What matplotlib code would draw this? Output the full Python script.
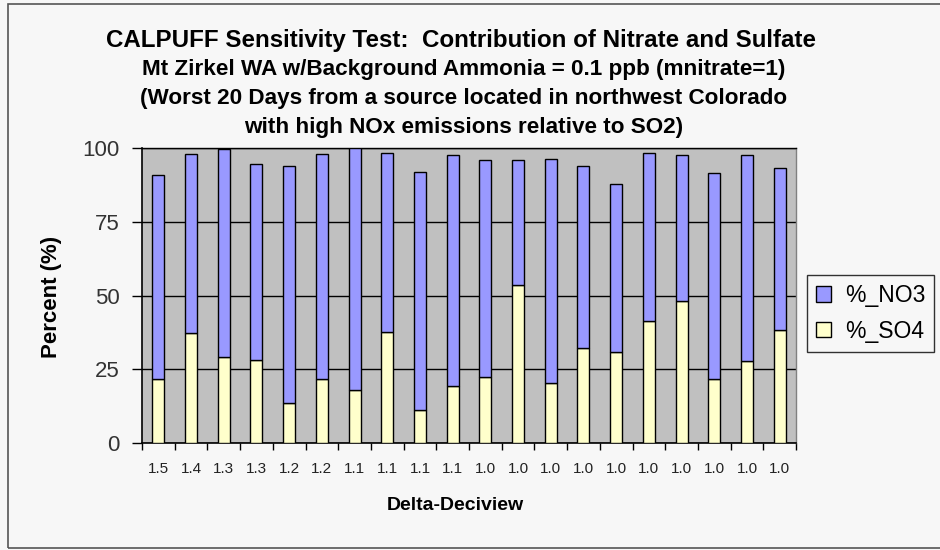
import numpy as np
import matplotlib
matplotlib.use('Agg')
import matplotlib.pyplot as plt
from matplotlib.patches import Rectangle

plt.rcParams['font.family'] = ['Liberation Sans', 'DejaVu Sans']

# --- Data ---
deciview = ['1.5', '1.4', '1.3', '1.3', '1.2', '1.2', '1.1', '1.1', '1.1', '1.1',
            '1.0', '1.0', '1.0', '1.0', '1.0', '1.0', '1.0', '1.0', '1.0', '1.0']
pct_so4 = [21.6, 37.4, 29.0, 28.1, 13.7, 21.6, 18.0, 37.7, 11.2, 19.3,
           22.5, 53.7, 20.2, 32.2, 31.0, 41.2, 48.0, 21.8, 27.7, 38.3]
pct_no3 = [69.4, 60.6, 70.8, 66.5, 80.2, 76.4, 82.0, 60.7, 80.7, 78.2,
           73.4, 42.3, 76.2, 61.7, 56.8, 57.2, 49.5, 69.6, 69.8, 54.9]
yticks = [0, 25, 50, 75, 100]

W, H = 940, 550
fig = plt.figure(figsize=(W / 100, H / 100), dpi=100)
fig.patch.set_facecolor('#f7f7f7')

# outer chart frame
fig.add_artist(Rectangle((8 / W, 1 - 548 / H), (W + 10 - 8) / W, (548 - 4) / H,
                         transform=fig.transFigure, fill=False,
                         edgecolor='#555555', linewidth=1.2))

ax = fig.add_axes([142 / W, 1 - 443 / H, (796 - 142) / W, (443 - 148) / H])
ax.set_facecolor('#c0c0c0')

x = np.arange(len(deciview))
bw = 0.37
ax.bar(x, pct_so4, width=bw, color='#ffffcc', edgecolor='black', linewidth=1.0,
       label='%_SO4', zorder=3)
ax.bar(x, pct_no3, width=bw, bottom=pct_so4, color='#9999ff', edgecolor='black',
       linewidth=1.0, label='%_NO3', zorder=3)

ax.set_xlim(-0.5, len(deciview) - 0.5)
ax.set_ylim(0, 100)

# Excel style: ticks at category boundaries, labels centred
ax.set_xticks(np.arange(-0.5, len(deciview)), minor=False)
ax.set_xticklabels([])
ax.set_xticks(x, minor=True)
ax.set_xticklabels(deciview, minor=True, fontsize=11, color='#222222')
ax.tick_params(axis='x', which='major', direction='out', length=5, width=1, color='black')
ax.tick_params(axis='x', which='minor', length=0, pad=14)

ax.set_yticks(yticks)
ax.set_yticklabels([str(v) for v in yticks], fontsize=16, color='#333333')
ax.tick_params(axis='y', direction='out', length=7, width=1, pad=9)

ax.yaxis.grid(True, color='black', linewidth=1.0, zorder=1)
ax.set_axisbelow(True)
for side in ['left', 'bottom']:
    ax.spines[side].set_color('black')
    ax.spines[side].set_linewidth(1.2)
ax.spines['top'].set_color('black')
ax.spines['top'].set_linewidth(1.0)
ax.spines['right'].set_color('#808080')
ax.spines['right'].set_linewidth(1.0)

ax.set_xlabel('Delta-Deciview', fontsize=14, fontweight='bold', va='center')
ax.xaxis.set_label_coords((455 - 142) / 654, (443 - 506) / 295)
ax.set_ylabel('Percent (%)', fontsize=16, fontweight='bold', va='center')
ax.yaxis.set_label_coords((52 - 142) / 654, (443 - 297) / 295)

# titles
fig.text(461 / W, 1 - 47 / H,
         'CALPUFF Sensitivity Test:  Contribution of Nitrate and Sulfate',
         ha='center', va='baseline', fontsize=17.4, fontweight='bold')
sub = ['Mt Zirkel WA w/Background Ammonia = 0.1 ppb (mnitrate=1)',
       '(Worst 20 Days from a source located in northwest Colorado',
       'with high NOx emissions relative to SO2)']
sub_base = [75, 104, 133]
for s, yb in zip(sub, sub_base):
    fig.text(464 / W, 1 - yb / H, s,
             ha='center', va='baseline', fontsize=16.2, fontweight='bold')

handles, labels = ax.get_legend_handles_labels()
leg = fig.legend(handles[::-1], labels[::-1], loc='upper left',
                 bbox_to_anchor=(807 / W, 1 - 275 / H), fontsize=16.5,
                 frameon=True, fancybox=False, edgecolor='black',
                 handlelength=0.65, handleheight=0.65, handletextpad=0.6,
                 borderpad=0.4, labelspacing=0.55, borderaxespad=0)
leg.get_frame().set_facecolor('#f7f7f7')
leg.get_frame().set_linewidth(1.0)

fig.savefig('out.png', dpi=100, facecolor=fig.get_facecolor())
